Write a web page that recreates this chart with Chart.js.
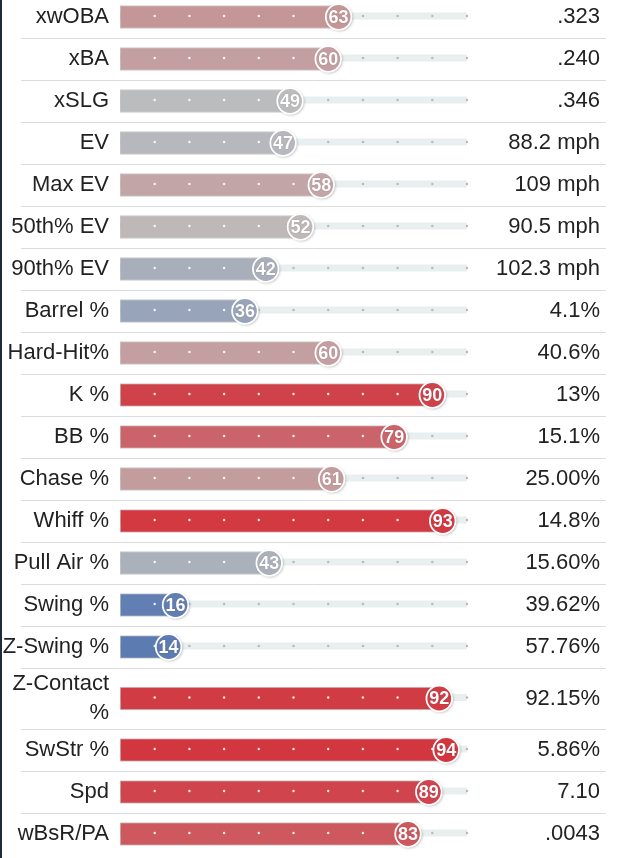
<!DOCTYPE html>
<html>
<head>
<meta charset="utf-8">
<script src="https://cdn.jsdelivr.net/npm/chart.js@4/dist/chart.umd.min.js"></script>
<style>
  html, body { margin:0; padding:0; background:#fff; overflow:hidden; width:625px; height:858px; }
  #wrap { position:absolute; left:0; top:-4px; width:625px; height:859px; }
  #edge { position:absolute; left:0; top:0; width:2px; height:858px; background:#1f2a3a; z-index:2; }
</style>
</head>
<body>
<div id="edge"></div>
<div id="wrap"><canvas id="c"></canvas></div>
<script>
// ---- data ----
const statLabels = ["xwOBA","xBA","xSLG","EV","Max EV","50th% EV","90th% EV","Barrel %","Hard-Hit%","K %","BB %","Chase %","Whiff %","Pull Air %","Swing %","Z-Swing %","Z-Contact %","SwStr %","Spd","wBsR/PA"];
const percentiles = [63,60,49,47,58,52,42,36,60,90,79,61,93,43,16,14,92,94,89,83];
const statValues = [".323",".240",".346","88.2 mph","109 mph","90.5 mph","102.3 mph","4.1%","40.6%","13%","15.1%","25.00%","14.8%","15.60%","39.62%","57.76%","92.15%","5.86%","7.10",".0043"];
const trackTicks = [10,20,30,40,50,60,70,80,90,100];

// ---- layout helpers ----
const FONT = "'Liberation Sans', Arial, sans-serif";
const TARGET_TOP = -4, TARGET_H = 859;
const mctx = document.createElement('canvas').getContext('2d');
mctx.font = "22px " + FONT;
function wrap(label, maxW) {
  if (mctx.measureText(label).width <= maxW) return label;
  const words = label.split(' ');
  const lines = []; let cur = '';
  for (const w of words) {
    const t = cur ? cur + ' ' + w : w;
    if (cur && mctx.measureText(t).width > maxW) { lines.push(cur); cur = w; } else cur = t;
  }
  if (cur) lines.push(cur);
  return lines.length > 1 ? lines : label;
}
const wrapped = statLabels.map(l => wrap(l, 110));
const rowUnits = wrapped.map(l => Array.isArray(l) ? 1 + 0.452 * (l.length - 1) : 1);
const centers = []; const bounds = [];
let acc = 0;
rowUnits.forEach((u, i) => { centers.push(acc + u / 2); acc += u; if (i < rowUnits.length - 1) bounds.push(acc); });
const total = acc;

function pctColor(p) {
  const blue = [53,97,172], gray = [190,190,190], red = [213,35,45];
  let b, t;
  if (p >= 50) { b = red; t = (p - 50) / 50; } else { b = blue; t = (50 - p) / 50; }
  const c = gray.map((v, k) => Math.round(v + (b[k] - v) * t));
  return `rgb(${c[0]},${c[1]},${c[2]})`;
}
const colors = percentiles.map(pctColor);

const decor = {
  id: 'decor',
  beforeDatasetsDraw(chart) {
    const ctx = chart.ctx, x = chart.scales.x, y = chart.scales.y;
    const meta = chart.getDatasetMeta(0);
    ctx.save();
    ctx.strokeStyle = '#dcdcdc'; ctx.lineWidth = 1;
    bounds.forEach(b => {
      const py = Math.round(y.getPixelForValue(b)) + 0.5;
      ctx.beginPath(); ctx.moveTo(21, py); ctx.lineTo(606, py); ctx.stroke();
    });
    ctx.fillStyle = '#e8efee';
    const x0 = x.getPixelForValue(0), x1 = x.getPixelForValue(100);
    meta.data.forEach(bar => {
      ctx.fillRect(x0, bar.y - 4.5, x1 - x0, 7);
    });
    ctx.restore();
  },
  afterDatasetsDraw(chart) {
    const ctx = chart.ctx, x = chart.scales.x;
    const meta = chart.getDatasetMeta(0);
    ctx.save();
    meta.data.forEach((bar, i) => {
      trackTicks.forEach(t => {
        const px = x.getPixelForValue(t);
        ctx.fillStyle = t < percentiles[i] ? 'rgba(255,255,255,0.9)' : '#b4baba';
        ctx.beginPath(); ctx.arc(px, bar.y - 1, 1.2, 0, Math.PI * 2); ctx.fill();
      });
    });
    meta.data.forEach((bar, i) => {
      ctx.save();
      ctx.shadowColor = 'rgba(0,0,0,0.35)'; ctx.shadowBlur = 3; ctx.shadowOffsetX = 1; ctx.shadowOffsetY = 1;
      ctx.fillStyle = colors[i];
      ctx.beginPath(); ctx.arc(bar.x, bar.y, 12.8, 0, Math.PI * 2); ctx.fill();
      ctx.restore();
      ctx.strokeStyle = '#fff'; ctx.lineWidth = 1.8;
      ctx.beginPath(); ctx.arc(bar.x, bar.y, 12.8, 0, Math.PI * 2); ctx.stroke();
      ctx.save();
      ctx.font = "bold 18px " + FONT;
      ctx.fillStyle = '#fff'; ctx.textAlign = 'center'; ctx.textBaseline = 'middle';
      ctx.shadowColor = 'rgba(60,0,0,0.35)'; ctx.shadowBlur = 1;
      ctx.fillText(String(percentiles[i]), bar.x, bar.y + 1);
      ctx.restore();
    });
    ctx.restore();
  }
};

const rowTicks = () => centers.map(v => ({ value: v }));
const noPad = s => { s.paddingTop = 0; s.paddingBottom = 0; };

const chart = new Chart(document.getElementById('c'), {
  type: 'bar',
  data: {
    datasets: [{
      data: percentiles.map((p, i) => ({ x: p, y: centers[i] })),
      backgroundColor: colors,
      borderColor: 'rgba(160,160,160,0.55)',
      borderWidth: 1,
      borderSkipped: false,
      barThickness: 23,
      yAxisID: 'y'
    }]
  },
  options: {
    indexAxis: 'y',
    responsive: true,
    maintainAspectRatio: false,
    animation: false,
    layout: { autoPadding: false, padding: { left: 0, right: 25, top: 0, bottom: 0 } },
    plugins: { legend: { display: false }, tooltip: { enabled: false } },
    scales: {
      x: { type: 'linear', min: 0, max: 100, display: false },
      y: {
        type: 'linear', position: 'left', min: 0, max: total, reverse: true, offset: false,
        grid: { display: false, drawTicks: false, offset: false }, border: { display: false },
        afterBuildTicks: s => { s.ticks = rowTicks(); },
        afterFit: s => { s.width = 120; noPad(s); },
        ticks: {
          autoSkip: false, padding: 11, color: '#222',
          font: { family: FONT, size: 22, lineHeight: 1.3 },
          callback: (v, i) => wrapped[i]
        }
      },
      y2: {
        type: 'linear', position: 'right', min: 0, max: total, reverse: true, offset: false,
        grid: { display: false, drawTicks: false, offset: false }, border: { display: false },
        afterBuildTicks: s => { s.ticks = rowTicks(); },
        afterFit: s => { s.width = 133; noPad(s); },
        ticks: {
          autoSkip: false, crossAlign: 'far', color: '#222',
          font: { family: FONT, size: 22 },
          callback: (v, i) => statValues[i]
        }
      }
    }
  },
  plugins: [decor]
});

// fit the plotting area exactly to the table rows
const wrapEl = document.getElementById('wrap');
for (let k = 0; k < 3; k++) {
  const a = chart.chartArea;
  const extra = chart.height - (a.bottom - a.top);
  if (Math.abs(a.top) < 0.5 && Math.abs(extra) < 0.5) break;
  wrapEl.style.height = (TARGET_H + extra) + 'px';
  wrapEl.style.top = (TARGET_TOP - a.top) + 'px';
  chart.resize();
}
</script>
</body>
</html>
